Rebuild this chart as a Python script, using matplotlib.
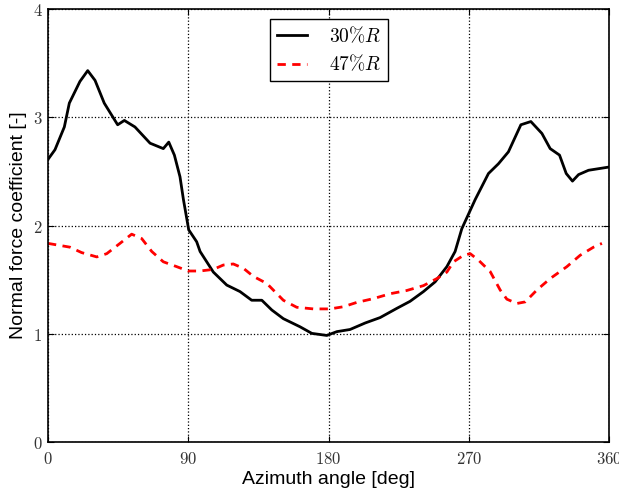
import matplotlib
matplotlib.use("Agg")
import matplotlib.pyplot as plt
from matplotlib.ticker import FuncFormatter

plt.rcParams['mathtext.fontset'] = 'cm'

az30 = [0, 4.5, 10.5, 13.7, 20.5, 25.5, 30.2, 36.1, 44.7, 49, 55.8, 65.5, 74, 77.5, 81.1,
        84.7, 86.9, 90.3, 95.4, 97.6, 106.1, 114.7, 123.2, 130.7, 137.2, 143.6, 151, 161.7,
        169.3, 178.9, 185.3, 193.8, 203.5, 213.1, 223.8, 232.3, 240.9, 248.4, 255.9, 261.2,
        265.5, 274.1, 282.6, 289, 295.4, 303.4, 309.8, 316.9, 322.2, 328.2, 332.5, 336.5,
        340.4, 346.8, 360]
cn30 = [2.61, 2.70, 2.91, 3.13, 3.33, 3.43, 3.34, 3.13, 2.93, 2.97, 2.91, 2.76, 2.71, 2.77, 2.65,
        2.45, 2.24, 1.96, 1.85, 1.76, 1.57, 1.45, 1.39, 1.31, 1.31, 1.22, 1.14, 1.065,
        1.004, 0.985, 1.02, 1.04, 1.10, 1.15, 1.235, 1.30, 1.39, 1.48, 1.62, 1.76,
        1.97, 2.24, 2.48, 2.57, 2.68, 2.93, 2.96, 2.85, 2.71, 2.65, 2.48, 2.41,
        2.47, 2.51, 2.54]

az47 = [0, 14.1, 21.6, 31.3, 37.7, 46.2, 53.7, 60.1, 66.6, 74, 82.6, 90, 97.6, 106.1, 112.5,
        118.9, 125.4, 131.8, 140.4, 151, 159.6, 170.3, 181, 189.5, 198.1, 208.8, 219.5,
        230.2, 240.9, 249.5, 255.9, 260.2, 266.6, 270.9, 276.2, 283.7, 290.1, 294.4,
        300.8, 306.2, 313.7, 322.2, 332.9, 341.4, 350, 355.4]
cn47 = [1.835, 1.80, 1.75, 1.71, 1.74, 1.835, 1.92, 1.88, 1.76, 1.665, 1.62, 1.58, 1.58, 1.595, 1.635,
        1.645, 1.605, 1.53, 1.465, 1.31, 1.245, 1.23, 1.23, 1.25, 1.29, 1.325, 1.37,
        1.40, 1.445, 1.51, 1.57, 1.665, 1.725, 1.74, 1.68, 1.575, 1.405, 1.32,
        1.28, 1.295, 1.405, 1.51, 1.62, 1.725, 1.80, 1.835]

xticks = [0, 90, 180, 270, 360]
yticks = [0, 1, 2, 3, 4]

fig = plt.figure(figsize=(6.19, 4.94), dpi=100)
ax = fig.add_axes([0.0775, 0.105, 0.9065, 0.877])

ax.plot(az30, cn30, color='black', lw=2, label=r'$30\%R$')
ax.plot(az47, cn47, color='red', lw=2, ls=(0, (3, 2.3)), label=r'$47\%R$')

ax.set_xlim(0, 360)
ax.set_ylim(0, 4)
ax.set_xticks(xticks)
ax.set_yticks(yticks)
fmt = FuncFormatter(lambda v, p: r'$%d$' % v)
ax.xaxis.set_major_formatter(fmt)
ax.yaxis.set_major_formatter(fmt)
ax.tick_params(direction='in', top=True, right=True, labelsize=12, length=4, colors='black')
ax.tick_params(axis='x', pad=6)
ax.tick_params(axis='y', pad=4)
for lab in ax.get_xticklabels() + ax.get_yticklabels():
    lab.set_color('#333333')
ax.grid(True, color='black', ls=':', lw=0.9)
for s in ax.spines.values():
    s.set_linewidth(1.2)

ax.set_xlabel('Azimuth angle [deg]', fontsize=14, family='Liberation Sans', labelpad=2)
ax.set_ylabel('Normal force coefficient [-]', fontsize=14, family='Liberation Sans', labelpad=4)

leg = ax.legend(loc='upper center', bbox_to_anchor=(0.501, 0.977), borderaxespad=0,
                fontsize=14, fancybox=False,
                framealpha=1, edgecolor='black', handlelength=1.55, borderpad=0.35,
                labelspacing=0.4, handletextpad=1.1)
leg.get_frame().set_linewidth(1.0)

fig.savefig('out.png', dpi=100)
